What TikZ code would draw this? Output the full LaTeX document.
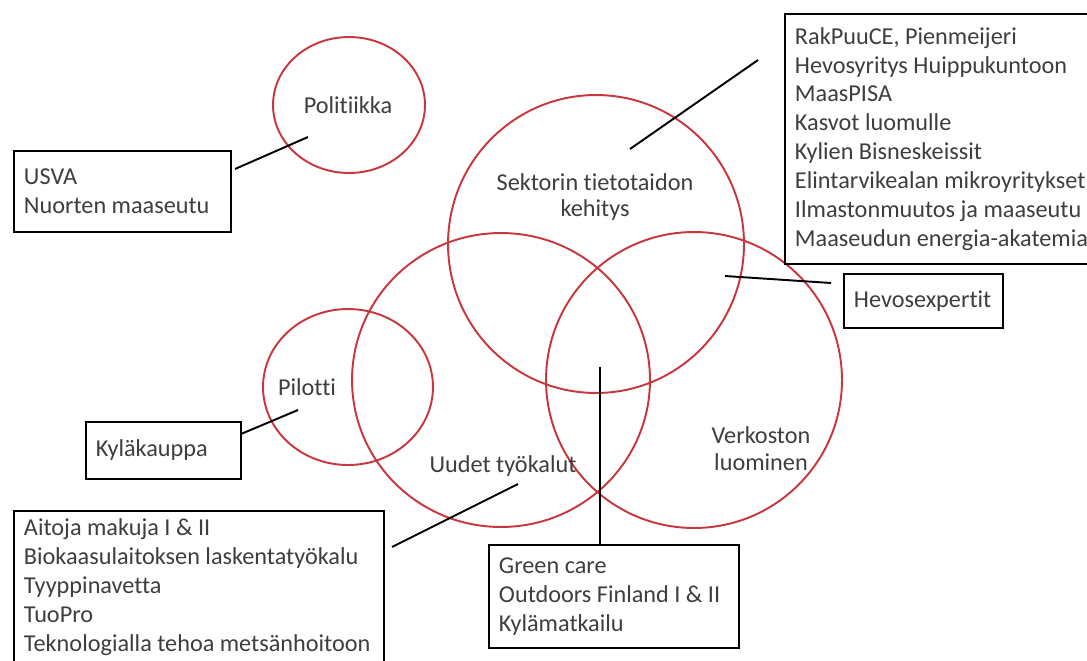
\documentclass[tikz,border=0pt]{standalone}
\usepackage{fontspec}
\setmainfont{Carlito}[Ligatures=NoCommon]
\usepackage{tikz}
\usetikzlibrary{calc,positioning}
\definecolor{ringred}{RGB}{200,55,62}
\definecolor{inkgray}{RGB}{62,62,62}
\tikzset{
  ring/.style={draw=ringred, line width=1.1pt},
  lbl/.style={text=inkgray, font=\fontsize{13.8}{15.3}\selectfont, align=center, inner sep=0pt,
    execute at begin node={\spaceskip=0pt\xspaceskip=0pt}},
  listbox/.style={draw=black, fill=white, line width=1.1pt, anchor=north west, align=left,
    text=inkgray, font=\fontsize{13.8}{16.45}\selectfont, inner xsep=0.2cm, inner ysep=0pt,
    execute at begin node={\spaceskip=0pt\xspaceskip=0pt}},
  lead/.style={black, line width=1.1pt},
}
\begin{document}
\begin{tikzpicture}[x=0.02cm,y=-0.02cm]
\clip (0,0) rectangle (1087,660);
\fill[white] (0,0) rectangle (1087,660);

\draw[ring] (349,105) ellipse [x radius=1.52cm, y radius=1.36cm];
\draw[ring] (348,387) ellipse [x radius=1.7cm, y radius=1.56cm];
\draw[ring] (596,244) ellipse [x radius=2.96cm, y radius=2.98cm];
\draw[ring] (501,380) ellipse [x radius=2.98cm, y radius=2.94cm];
\draw[ring] (694,380) ellipse [x radius=2.96cm, y radius=2.96cm];

\node[lbl] (politiikka) at (348,105) {Politiikka};
\node[lbl] (sektori) at (595,197) {Sektorin tietotaidon\\kehitys};
\node[lbl] (pilotti) at (307,387) {Pilotti};
\node[lbl] (tyokalut) at (503,466) {Uudet työkalut};
\node[lbl] (verkosto) at (761,449) {Verkoston\\luominen};

\node[listbox, text width=6.0cm, minimum height=5.0cm] (hankkeet) at (784,13)
  {RakPuuCE, Pienmeijeri\\Hevosyritys Huippukuntoon\\MaasPISA\\Kasvot luomulle\\Kylien Bisneskeissit\\Elintarvikealan mikroyritykset\\Ilmastonmuutos ja maaseutu\\Maaseudun energia-akatemia};
\node[listbox, text width=3.94cm, minimum height=1.62cm] (usva) at (13,150)
  {USVA\\Nuorten maaseutu};
\node[listbox, text width=2.78cm, minimum height=1.08cm] (hevos) at (843,273)
  {Hevosexpertit};
\node[listbox, text width=2.7cm, minimum height=1.14cm] (kyla) at (85,421)
  {Kyläkauppa};
\node[listbox, text width=7.0cm, minimum height=3.04cm] (tyokalulista) at (13,510)
  {Aitoja makuja I \& II\\Biokaasulaitoksen laskentatyökalu\\Tyyppinavetta\\TuoPro\\Teknologialla tehoa metsänhoitoon};
\node[listbox, text width=4.6cm, minimum height=2.06cm] (greencare) at (488,544)
  {Green care\\Outdoors Finland I \& II\\Kylämatkailu};

\coordinate (pol-in) at (308,137);
\coordinate (usva-end) at (235,169);
\coordinate (sek-in) at (630,149);
\coordinate (hank-end) at (758,60);
\coordinate (hev-in) at (725,276);
\coordinate (hev-end) at (831,283);
\coordinate (pil-in) at (298,410);
\coordinate (kyla-end) at (241,434);
\coordinate (tyo-in) at (518,484);
\coordinate (lista-end) at (392,547);
\coordinate (mid-in) at (600,367);

\draw[lead] (usva-end) -- (pol-in);
\draw[lead] (sek-in) -- (hank-end);
\draw[lead] (hev-in) -- (hev-end);
\draw[lead] (kyla-end) -- (pil-in);
\draw[lead] (lista-end) -- (tyo-in);
\draw[lead] (mid-in) -- (mid-in |- greencare.north);
\end{tikzpicture}
\end{document}
